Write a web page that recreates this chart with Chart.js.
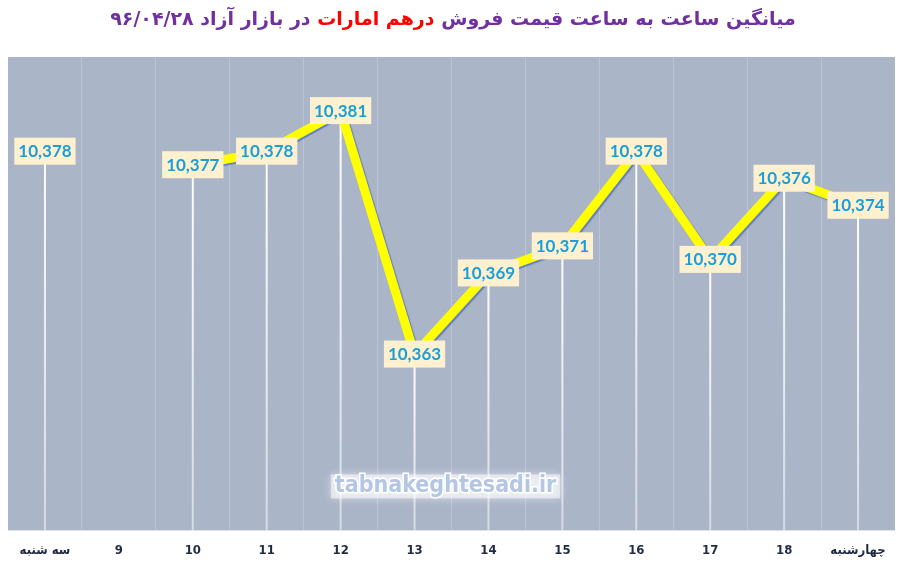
<!DOCTYPE html>
<html>
<head>
<meta charset="utf-8">
<script src="https://cdn.jsdelivr.net/npm/chart.js@4/dist/chart.umd.min.js"></script>
<style>
    body { margin: 0; background: #fff; }
    #wrap { position: relative; width: 906px; height: 563px; }
    #title {
        position: absolute; top: 7px; left: 0; width: 906px;
        text-align: center; direction: rtl;
        font: bold 19px "DejaVu Sans", sans-serif; color: #7030A0;
    }
    #title .red { color: #FF0000; }
    canvas { position: absolute; top: 0; left: 0; }
</style>
</head>
<body>
<div id="wrap">
    <canvas id="rateChart" width="906" height="563"></canvas>
    <div id="title">میانگین ساعت به ساعت قیمت فروش <span class="red">درهم امارات</span> در بازار آزاد ۹۶/۰۴/۲۸</div>
</div>
<script>
// hours of the day (first / last are day names)
const hours = ['سه شنبه', '9', '10', '11', '12', '13', '14', '15', '16', '17', '18', 'چهارشنبه'];
// average selling price, AED (no value at 9)
const prices = [10378, null, 10377, 10378, 10381, 10363, 10369, 10371, 10378, 10370, 10376, 10374];
const yMin = 10350;
const yMax = 10385;

document.addEventListener('DOMContentLoaded', function() {
    const ctx = document.getElementById('rateChart').getContext('2d');

    // plot area fill + watermark
    const backdrop = {
        id: 'backdrop',
        beforeDraw(chart) {
            const a = chart.chartArea;
            const c = chart.ctx;
            c.save();
            c.fillStyle = '#ABB5C8';
            c.fillRect(a.left, a.top, a.right - a.left, a.bottom - a.top);
            c.restore();
        },
        afterDatasetsDraw(chart) {
            const a = chart.chartArea;
            const c = chart.ctx;
            const cx = (a.left + a.right) / 2 - 6;
            const cy = a.bottom - 44;
            c.save();
            c.font = 'bold 23px "DejaVu Sans Condensed", "DejaVu Sans", sans-serif';
            c.textAlign = 'center';
            c.textBaseline = 'middle';
            const w = c.measureText('tabnakeghtesadi.ir').width;
            c.shadowColor = 'rgba(255,255,255,0.9)';
            c.shadowBlur = 8;
            c.fillStyle = 'rgba(255,255,255,0.55)';
            c.fillRect(cx - w / 2 - 4, cy - 12, w + 8, 24);
            c.shadowBlur = 0;
            c.lineWidth = 3;
            c.strokeStyle = '#FFFFFF';
            c.strokeText('tabnakeghtesadi.ir', cx, cy);
            c.fillStyle = '#B4C6E2';
            c.fillText('tabnakeghtesadi.ir', cx, cy);
            c.restore();
        }
    };

    // white drop lines from each point down to the axis
    const dropLines = {
        id: 'dropLines',
        beforeDatasetsDraw(chart) {
            const a = chart.chartArea;
            const c = chart.ctx;
            const meta = chart.getDatasetMeta(0);
            c.save();
            meta.data.forEach((pt, i) => {
                if (prices[i] === null) return;
                const g = c.createLinearGradient(0, pt.y, 0, a.bottom);
                g.addColorStop(0, 'rgba(255,255,255,1)');
                g.addColorStop(1, 'rgba(255,255,255,0.5)');
                c.strokeStyle = g;
                c.lineWidth = 2;
                c.beginPath();
                c.moveTo(pt.x, pt.y);
                c.lineTo(pt.x, a.bottom);
                c.stroke();
            });
            c.restore();
        }
    };

    // shadow under the yellow line
    const lineShadow = {
        id: 'lineShadow',
        beforeDatasetDraw(chart) {
            const c = chart.ctx;
            c.save();
            c.shadowColor = 'rgba(70,110,190,0.75)';
            c.shadowOffsetX = 1.5;
            c.shadowOffsetY = 1.5;
            c.shadowBlur = 1;
        },
        afterDatasetDraw(chart) {
            chart.ctx.restore();
        }
    };

    // value boxes centred on the points
    const valueLabels = {
        id: 'valueLabels',
        afterDatasetsDraw(chart) {
            const c = chart.ctx;
            const meta = chart.getDatasetMeta(0);
            c.save();
            c.font = 'bold 17px Lato, sans-serif';
            c.textAlign = 'center';
            c.textBaseline = 'middle';
            meta.data.forEach((pt, i) => {
                if (prices[i] === null) return;
                const txt = prices[i].toLocaleString('en-US');
                const w = c.measureText(txt).width + 8;
                c.fillStyle = '#FFF1CF';
                c.fillRect(pt.x - w / 2, pt.y - 14, w, 27);
                c.fillStyle = '#1A9FDA';
                c.fillText(txt, pt.x, pt.y);
            });
            c.restore();
        }
    };

    new Chart(ctx, {
        type: 'line',
        data: {
            labels: hours,
            datasets: [{
                data: prices,
                borderColor: '#FFFF00',
                borderWidth: 9,
                pointRadius: 0,
                tension: 0,
                spanGaps: false,
                borderJoinStyle: 'miter'
            }]
        },
        options: {
            responsive: false,
            animation: false,
            layout: { padding: { left: 8, right: 11, top: 57, bottom: -7 } },
            plugins: {
                legend: { display: false },
                tooltip: { enabled: false }
            },
            scales: {
                x: {
                    offset: true,
                    grid: {
                        offset: true,
                        color: 'rgba(255,255,255,0.22)',
                        drawTicks: false
                    },
                    border: { display: false },
                    ticks: {
                        color: '#1F2A44',
                        padding: 12,
                        maxRotation: 0,
                        font: { family: '"Liberation Sans Narrow", "DejaVu Sans Condensed", sans-serif', size: 13, weight: 'bold' }
                    }
                },
                y: {
                    display: false,
                    min: yMin,
                    max: yMax
                }
            }
        },
        plugins: [backdrop, dropLines, lineShadow, valueLabels]
    });
});
</script>
</body>
</html>
